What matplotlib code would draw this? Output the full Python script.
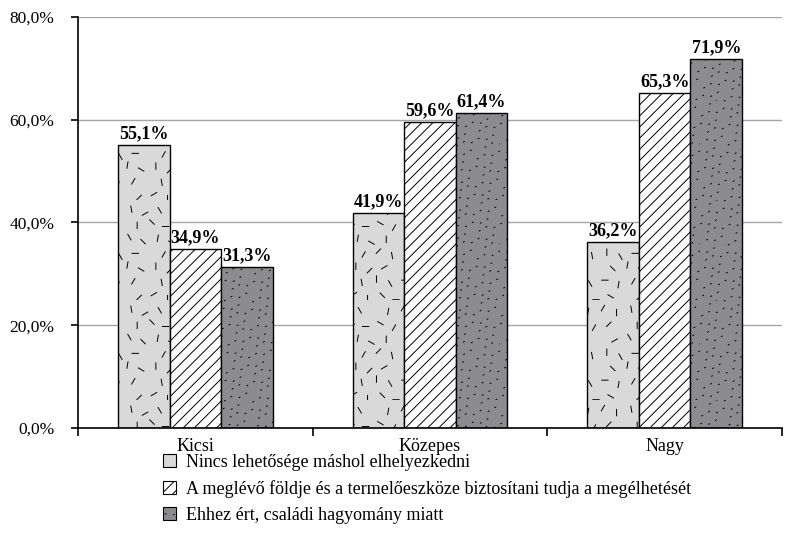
import numpy as np
import matplotlib
matplotlib.use('Agg')
import matplotlib.pyplot as plt
import matplotlib.hatch as mhatch
from matplotlib.path import Path
from matplotlib.patches import Patch

# data
categories = ['Kicsi', 'Közepes', 'Nagy']
series_names = ['Nincs lehetősége máshol elhelyezkedni',
                'A meglévő földje és a termelőeszköze biztosítani tudja a megélhetését',
                'Ehhez ért, családi hagyomány miatt']
nincs = [55.1, 41.9, 36.2]
foldje = [34.9, 59.6, 65.3]
hagyomany = [31.3, 61.4, 71.9]
yticks = [0, 20, 40, 60, 80]


# texture helpers: short dashes and scattered dots instead of the stock circles / stars
def _r2(n, s):
    i = np.arange(n) + s
    return (0.5 + i * 0.7548776662) % 1.0, (0.5 + i * 0.5698402910) % 1.0


class DashHatch(mhatch.HatchPatternBase):
    def __init__(self, hatch, density):
        self.n = 42 if 'O' in hatch else 0
        self.num_vertices = self.n * 2

    def set_vertices_and_codes(self, vertices, codes):
        k = self.n
        cx, cy = _r2(k, 3)
        angles = np.array([90, 60, 120, 90, 135, 45, 0, 100, 80, 30, 150])
        ang = np.deg2rad(angles[(np.arange(k) * 4) % len(angles)])
        half = 0.032
        dx = np.cos(ang) * half
        dy = np.sin(ang) * half
        vertices[0::2, 0] = cx - dx
        vertices[0::2, 1] = cy - dy
        vertices[1::2, 0] = cx + dx
        vertices[1::2, 1] = cy + dy
        codes[0::2] = Path.MOVETO
        codes[1::2] = Path.LINETO


class DotHatch(mhatch.HatchPatternBase):
    def __init__(self, hatch, density):
        self.n = 130 if '*' in hatch else 0
        self.num_vertices = self.n * 2

    def set_vertices_and_codes(self, vertices, codes):
        cx, cy = _r2(self.n, 11)
        vertices[0::2, 0] = cx
        vertices[0::2, 1] = cy
        vertices[1::2, 0] = cx + 0.008
        vertices[1::2, 1] = cy + 0.004
        codes[0::2] = Path.MOVETO
        codes[1::2] = Path.LINETO


mhatch._hatch_types[5] = DashHatch
mhatch._hatch_types[7] = DotHatch

plt.rcParams['font.family'] = ['Liberation Serif', 'DejaVu Serif']
plt.rcParams['hatch.linewidth'] = 0.7

fig = plt.figure(figsize=(7.87, 5.47), dpi=100)
ax = fig.add_axes([0.0991, 0.2176, 0.8945, 0.7513])

x = np.arange(len(categories))
w = 0.22
styles = [dict(color='#d9d9d9', hatch='O'),
          dict(color='white', hatch='///'),
          dict(color='#8c8c90', hatch='*')]
handles = []
for i, vals in enumerate([nincs, foldje, hagyomany]):
    bars = ax.bar(x + (i - 1) * w, vals, w, facecolor=styles[i]['color'],
                  edgecolor='black', linewidth=1.0, hatch=styles[i]['hatch'], zorder=3)
    for b, v in zip(bars, vals):
        ax.text(b.get_x() + b.get_width() / 2, v + 0.5, f'{v:.1f}%'.replace('.', ','),
                ha='center', va='bottom', fontsize=13, fontweight='bold', zorder=4)
    handles.append(Patch(facecolor=styles[i]['color'], edgecolor='black', linewidth=0.8,
                         hatch=styles[i]['hatch'], label=series_names[i]))

ax.set_xlim(-0.5, 2.5)
ax.set_ylim(0, 80)
ax.set_yticks(yticks)
ax.set_yticklabels([f'{t:.1f}%'.replace('.', ',') for t in yticks], fontsize=12.5)
ax.set_xticks(x)
ax.set_xticklabels(categories, fontsize=13)
ax.set_xticks([-0.5, 0.5, 1.5, 2.5], minor=True)
ax.tick_params(axis='x', which='major', length=0, pad=7)
ax.tick_params(axis='x', which='minor', length=6, width=1.2, direction='out')
ax.tick_params(axis='y', length=5, width=1.2, direction='out', pad=12)
ax.grid(axis='y', color='#a6a6a6', linewidth=1.0, zorder=0)
ax.set_axisbelow(True)
for s in ['top', 'right']:
    ax.spines[s].set_visible(False)
for s in ['left', 'bottom']:
    ax.spines[s].set_linewidth(1.2)
ax.spines['bottom'].set_zorder(5)

fig.legend(handles=handles, loc='upper left', bbox_to_anchor=(0.207, 0.170),
           frameon=False, fontsize=13, handlelength=0.75, handleheight=0.75,
           handletextpad=0.55, labelspacing=0.5, borderpad=0, borderaxespad=0)

fig.savefig('out.png', dpi=100)
